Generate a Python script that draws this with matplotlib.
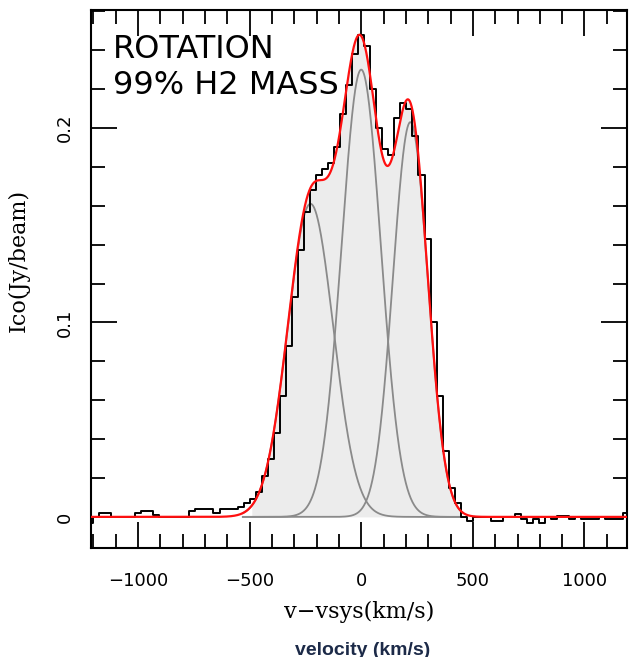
import matplotlib
matplotlib.use("Agg")
import matplotlib.pyplot as plt
import numpy as np
from matplotlib.ticker import MultipleLocator

# channel grid of the spectrum (km/s), 27 km/s channels centred on 0
chan_index = np.arange(-45, 45)
chan_width = 27.0
velocity = chan_index * chan_width

flux = [
    -0.003, 0.000, 0.002, 0.002, 0.000, 0.000, 0.000, 0.000, 0.002, 0.003,
    0.003, 0.001, 0.000, 0.000, 0.000, 0.000, 0.000, 0.003, 0.004, 0.004,
    0.004, 0.002, 0.004, 0.004, 0.004, 0.005, 0.007, 0.009, 0.013, 0.021,
    0.030, 0.043, 0.062, 0.088, 0.113, 0.137, 0.157, 0.168, 0.176, 0.179,
    0.182, 0.190, 0.207, 0.222, 0.238, 0.248, 0.242, 0.220, 0.200, 0.189,
    0.186, 0.205, 0.213, 0.210, 0.196, 0.176, 0.143, 0.100, 0.062, 0.034,
    0.015, 0.007, 0.000, -0.002, 0.000, 0.000, 0.000, -0.002, -0.002, 0.000,
    0.000, 0.0015, -0.001, -0.003, -0.001, -0.003, 0.000, -0.001, 0.0005, 0.0005,
    -0.001, 0.000, -0.001, -0.001, -0.001, 0.000, -0.001, -0.001, -0.001, 0.002,
]

# three gaussian components of the fit
comp_amp = [0.161, 0.230, 0.203]
comp_center = [-227.0, 0.0, 220.0]
comp_sigma = [102.0, 88.0, 78.0]

# velocity window of the line (shaded) and range of the component curves
line_window = (-490, 450)
comp_range = (-530, 455)


def gauss(v, a, c, s):
    return a * np.exp(-0.5 * ((v - c) / s) ** 2)


fig = plt.figure(figsize=(6.29, 6.57), dpi=100)
ax = fig.add_axes([0.1447, 0.1659, 0.852, 0.819])

vfine = np.linspace(-1250, 1250, 2501)
total = sum(gauss(vfine, a, c, s) for a, c, s in zip(comp_amp, comp_center, comp_sigma))

# shaded area under the fit inside the line window
win = (vfine >= line_window[0]) & (vfine <= line_window[1])
ax.fill_between(vfine[win], 0, total[win], color="#ececec", lw=0, zorder=1)

# individual components
vc = np.linspace(comp_range[0], comp_range[1], 800)
for a, c, s in zip(comp_amp, comp_center, comp_sigma):
    ax.plot(vc, gauss(vc, a, c, s), color="#8a8a8a", lw=1.3, zorder=2)

# observed spectrum
ax.plot(velocity, flux, drawstyle="steps-mid", color="black", lw=1.4, zorder=3)

# total fit
ax.plot(vfine, total, color="#ff1010", lw=1.6, zorder=4)

ax.set_xlim(-1210, 1190)
ax.set_ylim(-0.016, 0.2607)

ax.xaxis.set_major_locator(MultipleLocator(500))
ax.xaxis.set_minor_locator(MultipleLocator(100))
ax.yaxis.set_major_locator(MultipleLocator(0.1))
ax.yaxis.set_minor_locator(MultipleLocator(0.02))
ax.yaxis.set_major_formatter(plt.FuncFormatter(lambda y, p: "0" if abs(y) < 1e-9 else f"{y:.1f}"))

ax.tick_params(which="both", direction="in", top=True, right=True, width=1.3, color="black")
ax.tick_params(which="major", length=19)
ax.tick_params(which="minor", length=10)
ax.tick_params(axis="x", labelsize=13, pad=17)
ax.tick_params(axis="y", labelsize=13, pad=12, labelrotation=90)
for lab in ax.get_yticklabels():
    lab.set_verticalalignment("center")

for sp in ax.spines.values():
    sp.set_linewidth(1.5)

ax.set_xlabel("v\u2212vsys(km/s)", family="DejaVu Serif", fontsize=16, labelpad=8)
ax.set_ylabel("Ico(Jy/beam)", family="DejaVu Serif", fontsize=16)
ax.yaxis.set_label_coords(-0.115, 0.535)

ax.text(0.041, 0.955, "ROTATION\n99% H2 MASS", transform=ax.transAxes,
        fontsize=23, va="top", ha="left", linespacing=1.2, color="black")

# caption of the underlying slide, cut by the bottom edge as in the original
fig.text(0.576, 0.003, "velocity (km/s)", ha="center", va="baseline",
         fontsize=14, fontweight="bold", color="#1c2a48",
         family=["Liberation Sans Narrow", "Liberation Sans"])

fig.savefig("out.png", dpi=100)
